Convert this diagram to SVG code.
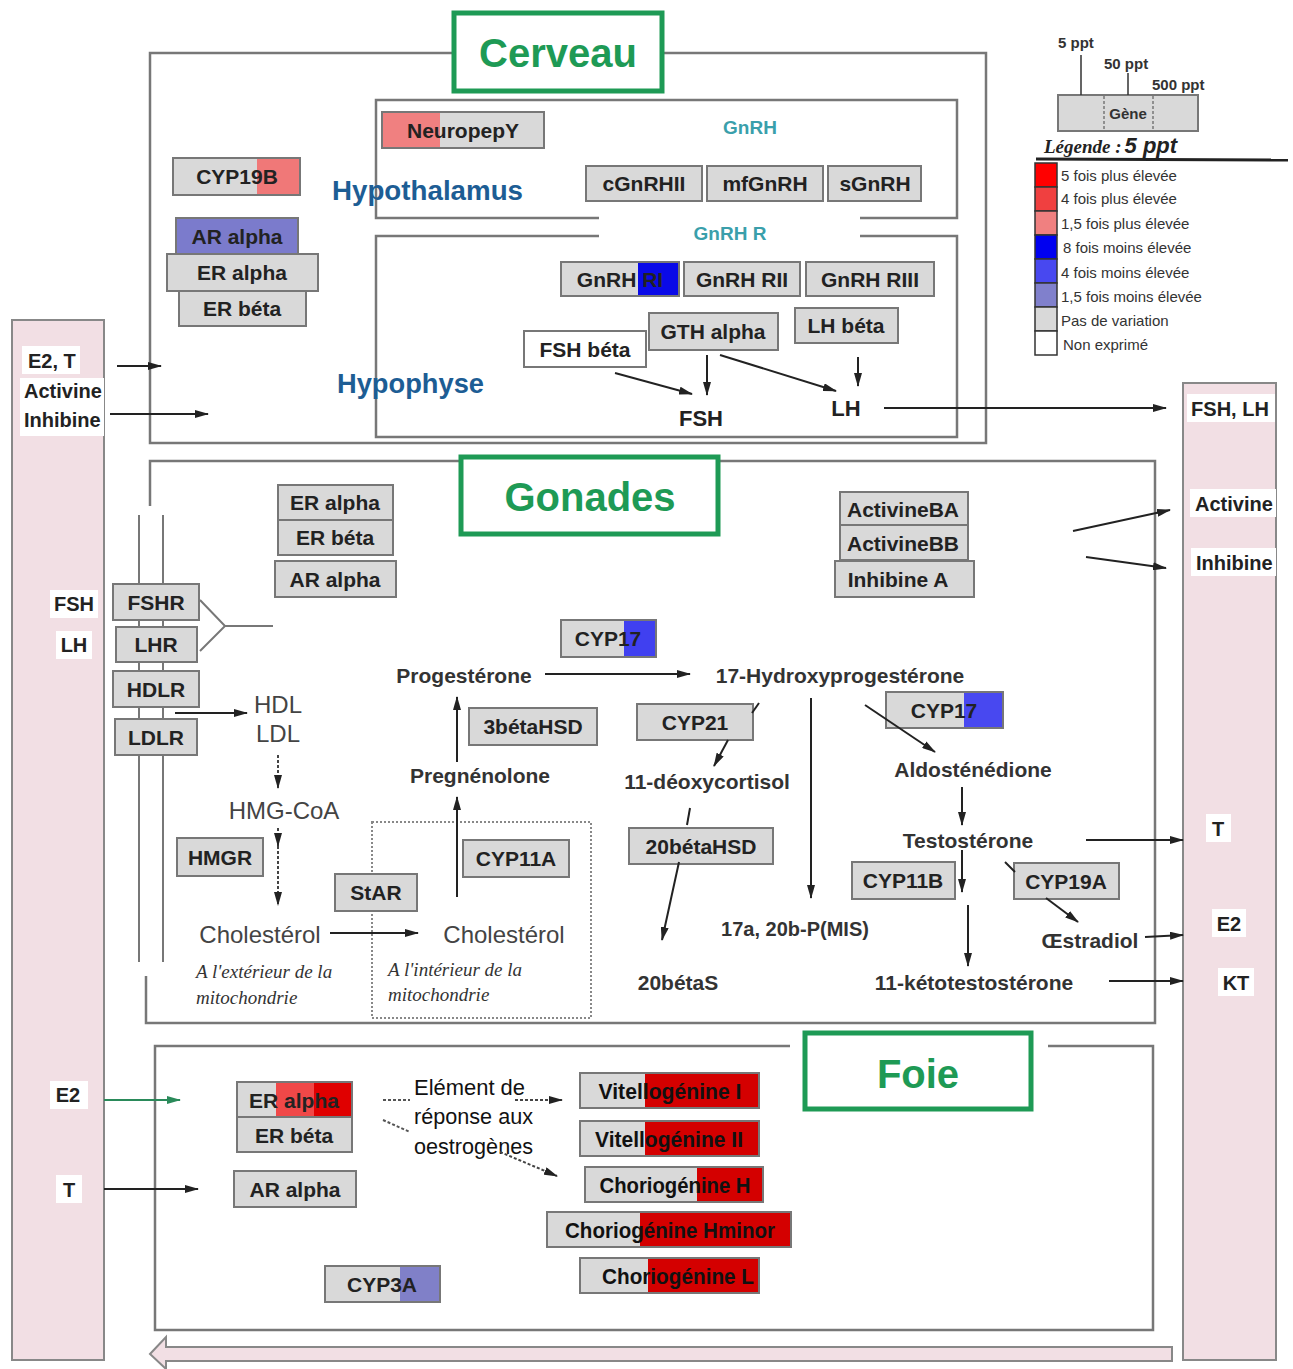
<svg xmlns="http://www.w3.org/2000/svg" width="1293" height="1369" viewBox="0 0 1293 1369">
<defs>
<marker id="ah" viewBox="0 0 14 8" refX="13" refY="4" markerWidth="14" markerHeight="8" markerUnits="userSpaceOnUse" orient="auto"><path d="M0,0 L14,4 L0,8 z" fill="#222"/></marker>
<marker id="ahg" viewBox="0 0 14 8" refX="13" refY="4" markerWidth="14" markerHeight="8" markerUnits="userSpaceOnUse" orient="auto"><path d="M0,0 L14,4 L0,8 z" fill="#2a8a5a"/></marker>
<style>
.g{fill:#d9d9d9;stroke:#777;stroke-width:2}
.w{fill:#fff;stroke:#777;stroke-width:2}
.bd{fill:none;stroke:#777;stroke-width:2}
.t{font-family:"Liberation Sans",Arial,sans-serif;font-weight:bold;font-size:21px;fill:#222;text-anchor:middle}
.tc{font-family:"Liberation Sans",Arial,sans-serif;font-weight:bold;font-size:22px;fill:#111;text-anchor:middle}
.p{font-family:"Liberation Sans",Arial,sans-serif;font-weight:bold;font-size:21px;fill:#333;text-anchor:middle}
.n{font-family:"Liberation Sans",Arial,sans-serif;font-size:24px;fill:#444;text-anchor:middle}
.it{font-family:"Liberation Serif","Times New Roman",serif;font-style:italic;font-size:19px;fill:#333}
.org{font-family:"Liberation Sans",Arial,sans-serif;font-weight:bold;font-size:40px;fill:#1e9a55;text-anchor:middle}
.gb{fill:#fff;stroke:#1e9a55;stroke-width:5}
.reg{font-family:"Liberation Sans",Arial,sans-serif;font-weight:bold;font-size:27px;fill:#1d5d94}
.teal{font-family:"Liberation Sans",Arial,sans-serif;font-weight:bold;font-size:19px;fill:#3a9fab;text-anchor:middle}
.col{fill:#f2dfe4;stroke:#888;stroke-width:2}
.box{fill:none;stroke:#777;stroke-width:2.5}
.lb{font-family:"Liberation Sans",Arial,sans-serif;font-weight:bold;font-size:20px;fill:#222}
.lg{font-family:"Liberation Sans",Arial,sans-serif;font-size:15px;fill:#333}
.ln{stroke:#222;stroke-width:2;fill:none}
.a{stroke:#222;stroke-width:2;fill:none;marker-end:url(#ah)}
.ad{stroke:#444;stroke-width:2;fill:none;stroke-dasharray:3 2;marker-end:url(#ah)}
.dl{stroke:#555;stroke-width:2;fill:none;stroke-dasharray:3 2}
.mem{stroke:#777;stroke-width:2;fill:none}
</style>
</defs>
<rect width="1293" height="1369" fill="#fff"/>

<!-- side columns and bottom return arrow -->
<g id="columns">
<rect class="col" x="12" y="320" width="92" height="1040"/>
<rect class="col" x="1183" y="383" width="93" height="977"/>
<path class="col" d="M150,1354 L166,1337 L166,1347 L1172,1347 L1172,1361 L166,1361 L166,1369 z"/>
<g fill="#fff">
<rect x="22" y="346" width="58" height="28"/>
<rect x="20" y="378" width="84" height="58"/>
<rect x="50" y="590" width="48" height="28"/>
<rect x="56" y="631" width="36" height="28"/>
<rect x="50" y="1081" width="38" height="28"/>
<rect x="56" y="1175" width="26" height="28"/>
<rect x="1187" y="394" width="88" height="28"/>
<rect x="1190" y="489" width="86" height="28"/>
<rect x="1191" y="548" width="85" height="28"/>
<rect x="1206" y="814" width="25" height="28"/>
<rect x="1212" y="909" width="34" height="28"/>
<rect x="1218" y="968" width="36" height="28"/>
</g>
<text class="lb" x="28" y="368">E2, T</text>
<text class="lb" x="24" y="398">Activine</text>
<text class="lb" x="24" y="427">Inhibine</text>
<text class="lb" x="74" y="611" text-anchor="middle">FSH</text>
<text class="lb" x="74" y="652" text-anchor="middle">LH</text>
<text class="lb" x="68" y="1102" text-anchor="middle">E2</text>
<text class="lb" x="69" y="1197" text-anchor="middle">T</text>
<text class="lb" x="1230" y="416" text-anchor="middle">FSH, LH</text>
<text class="lb" x="1195" y="511">Activine</text>
<text class="lb" x="1196" y="570">Inhibine</text>
<text class="lb" x="1218" y="836" text-anchor="middle">T</text>
<text class="lb" x="1229" y="931" text-anchor="middle">E2</text>
<text class="lb" x="1236" y="990" text-anchor="middle">KT</text>
</g>

<!-- organ frames -->
<g id="frames">
<path class="box" d="M452,53 L150,53 L150,443 L986,443 L986,53 L664,53"/>
<path class="box" d="M599,218 L376,218 L376,100 L957,100 L957,218 L860,218"/>
<path class="box" d="M599,236 L376,236 L376,437 L957,437 L957,236 L860,236"/>
<path class="box" d="M459,461 L150,461 L150,506"/>
<path class="box" d="M719,461 L1155,461 L1155,1023 L146,1023 L146,976"/>
<path class="mem" d="M139,515 L139,962 M163,515 L163,962"/>
<rect x="372" y="822" width="219" height="196" fill="none" stroke="#888" stroke-width="2" stroke-dasharray="2 2"/>
<path class="box" d="M790,1046 L155,1046 L155,1330 L1153,1330 L1153,1046 L1048,1046"/>
</g>

<g id="labels">
<rect class="gb" x="454" y="13" width="208" height="78"/>
<text class="org" x="558" y="67">Cerveau</text>
<rect class="gb" x="461" y="457" width="257" height="77"/>
<text class="org" x="590" y="511">Gonades</text>
<rect class="gb" x="805" y="1033" width="226" height="76"/>
<text class="org" x="918" y="1088">Foie</text>
<text class="reg" x="332" y="200" textLength="191" lengthAdjust="spacingAndGlyphs">Hypothalamus</text>
<text class="reg" x="337" y="393" textLength="147" lengthAdjust="spacingAndGlyphs">Hypophyse</text>
<text class="teal" x="750" y="134">GnRH</text>
<text class="teal" x="730" y="240">GnRH R</text>
</g>

<!-- Cerveau nodes -->
<g id="n-neuropepy"><rect class="g" x="382" y="112" width="162" height="36"/><rect x="383" y="113" width="57" height="34" fill="#f08080"/><text class="t" x="463" y="138">NeuropepY</text></g>
<g id="n-cgnrhii"><rect class="g" x="586" y="166" width="116" height="35"/><text class="t" x="644" y="191">cGnRHII</text></g>
<g id="n-mfgnrh"><rect class="g" x="707" y="166" width="116" height="35"/><text class="t" x="765" y="191">mfGnRH</text></g>
<g id="n-sgnrh"><rect class="g" x="828" y="166" width="93" height="35"/><text class="t" x="875" y="191">sGnRH</text></g>
<g id="n-cyp19b"><rect class="g" x="173" y="158" width="127" height="37"/><rect x="257" y="159" width="42" height="35" fill="#f07878"/><text class="t" x="237" y="184">CYP19B</text></g>
<g id="n-ar-c"><rect class="g" x="176" y="218" width="122" height="37" style="fill:#7b7bcc"/><text class="t" x="237" y="244">AR alpha</text></g>
<g id="n-era-c"><rect class="g" x="167" y="254" width="151" height="37"/><text class="t" x="242" y="280">ER alpha</text></g>
<g id="n-erb-c"><rect class="g" x="179" y="291" width="127" height="35"/><text class="t" x="242" y="316">ER béta</text></g>

<!-- Hypophyse nodes -->
<g id="n-gnrhri"><rect class="g" x="561" y="262" width="118" height="34"/><rect x="638" y="263" width="40" height="32" fill="#0a0ae8"/><text class="t" x="620" y="287">GnRH RI</text></g>
<g id="n-gnrhrii"><rect class="g" x="684" y="262" width="116" height="34"/><text class="t" x="742" y="287">GnRH RII</text></g>
<g id="n-gnrhriii"><rect class="g" x="806" y="262" width="128" height="34"/><text class="t" x="870" y="287">GnRH RIII</text></g>
<g id="n-gth"><rect class="g" x="649" y="313" width="129" height="37"/><text class="t" x="713" y="339">GTH alpha</text></g>
<g id="n-lhb"><rect class="g" x="795" y="308" width="103" height="35"/><text class="t" x="846" y="333">LH béta</text></g>
<g id="n-fshb"><rect class="w" x="524" y="331" width="122" height="36"/><text class="t" x="585" y="357">FSH béta</text></g>
<text class="t" x="701" y="426" style="font-size:22px">FSH</text>
<text class="t" x="846" y="416" style="font-size:22px">LH</text>

<!-- Gonades nodes -->
<g id="n-era-g"><rect class="g" x="278" y="485" width="115" height="35"/><text class="t" x="335" y="510">ER alpha</text></g>
<g id="n-erb-g"><rect class="g" x="278" y="520" width="115" height="35"/><text class="t" x="335" y="545">ER béta</text></g>
<g id="n-ar-g"><rect class="g" x="275" y="561" width="121" height="36"/><text class="t" x="335" y="587">AR alpha</text></g>
<g id="n-fshr"><rect class="g" x="113" y="584" width="86" height="36"/><text class="t" x="156" y="610">FSHR</text></g>
<g id="n-lhr"><rect class="g" x="116" y="627" width="81" height="35"/><text class="t" x="156" y="652">LHR</text></g>
<g id="n-hdlr"><rect class="g" x="113" y="671" width="86" height="36"/><text class="t" x="156" y="697">HDLR</text></g>
<g id="n-ldlr"><rect class="g" x="115" y="719" width="82" height="36"/><text class="t" x="156" y="745">LDLR</text></g>
<g id="n-actba"><rect class="g" x="840" y="492" width="128" height="33"/><text class="t" x="903" y="517">ActivineBA</text></g>
<g id="n-actbb"><rect class="g" x="840" y="525" width="128" height="35"/><text class="t" x="903" y="551">ActivineBB</text></g>
<g id="n-inha"><rect class="g" x="835" y="561" width="139" height="36"/><text class="t" x="898" y="587">Inhibine A</text></g>
<g id="n-cyp17a"><rect class="g" x="561" y="620" width="95" height="37"/><rect x="624" y="621" width="31" height="35" fill="#4040f0"/><text class="t" x="608" y="646">CYP17</text></g>
<g id="n-3bhsd"><rect class="g" x="469" y="708" width="128" height="37"/><text class="t" x="533" y="734">3bétaHSD</text></g>
<g id="n-cyp21"><rect class="g" x="637" y="704" width="116" height="36"/><text class="t" x="695" y="730">CYP21</text></g>
<g id="n-cyp11a"><rect class="g" x="463" y="840" width="106" height="37"/><text class="t" x="516" y="866">CYP11A</text></g>
<g id="n-star"><rect class="g" x="335" y="874" width="82" height="37"/><text class="t" x="376" y="900">StAR</text></g>
<g id="n-hmgr"><rect class="g" x="177" y="838" width="86" height="38"/><text class="t" x="220" y="865">HMGR</text></g>
<g id="n-20bhsd"><rect class="g" x="629" y="828" width="144" height="36"/><text class="t" x="701" y="854">20bétaHSD</text></g>
<g id="n-cyp17b"><rect class="g" x="886" y="692" width="117" height="36"/><rect x="964" y="693" width="38" height="34" fill="#4848f0"/><text class="t" x="944" y="718">CYP17</text></g>
<g id="n-cyp11b"><rect class="g" x="852" y="862" width="103" height="37"/><text class="t" x="903" y="888">CYP11B</text></g>
<g id="n-cyp19a"><rect class="g" x="1014" y="863" width="105" height="36"/><text class="t" x="1066" y="889">CYP19A</text></g>

<!-- Gonades metabolites -->
<g id="metabolites">
<text class="n" x="278" y="713">HDL</text>
<text class="n" x="278" y="742">LDL</text>
<text class="n" x="284" y="819">HMG-CoA</text>
<text class="n" x="260" y="943">Cholestérol</text>
<text class="n" x="504" y="943">Cholestérol</text>
<text class="p" x="480" y="783">Pregnénolone</text>
<text class="p" x="464" y="683">Progestérone</text>
<text class="p" x="840" y="683">17-Hydroxyprogestérone</text>
<text class="p" x="707" y="789">11-déoxycortisol</text>
<text class="p" x="678" y="990">20bétaS</text>
<text class="p" x="795" y="936" style="font-size:20px">17a, 20b-P(MIS)</text>
<text class="p" x="973" y="777">Aldosténédione</text>
<text class="p" x="968" y="848">Testostérone</text>
<text class="p" x="1090" y="948">Œstradiol</text>
<text class="p" x="974" y="990">11-kétotestostérone</text>
<text class="it" x="196" y="978">A l'extérieur de la</text>
<text class="it" x="196" y="1004">mitochondrie</text>
<text class="it" x="388" y="976">A l'intérieur de la</text>
<text class="it" x="388" y="1001">mitochondrie</text>
</g>

<!-- Foie nodes -->
<g id="n-era-f"><rect class="g" x="237" y="1082" width="115" height="35"/><rect x="276" y="1083" width="38" height="33" fill="#f04848"/><rect x="314" y="1083" width="37" height="33" fill="#e00000"/><text class="t" x="294" y="1108">ER alpha</text></g>
<g id="n-erb-f"><rect class="g" x="237" y="1117" width="115" height="35"/><text class="t" x="294" y="1143">ER béta</text></g>
<g id="n-ar-f"><rect class="g" x="234" y="1171" width="122" height="36"/><text class="t" x="295" y="1197">AR alpha</text></g>
<g id="n-cyp3a"><rect class="g" x="325" y="1266" width="115" height="36"/><rect x="400" y="1267" width="39" height="34" fill="#8080c8"/><text class="t" x="382" y="1292">CYP3A</text></g>
<g id="n-vtg1"><rect class="g" x="580" y="1073" width="179" height="35"/><rect x="645" y="1074" width="113" height="33" fill="#d40000"/><text class="tc" x="670" y="1099" textLength="143" lengthAdjust="spacingAndGlyphs">Vitellogénine I</text></g>
<g id="n-vtg2"><rect class="g" x="580" y="1121" width="179" height="35"/><rect x="645" y="1122" width="113" height="33" fill="#d40000"/><text class="tc" x="669" y="1147" textLength="148" lengthAdjust="spacingAndGlyphs">Vitellogénine II</text></g>
<g id="n-chgh"><rect class="g" x="585" y="1167" width="178" height="35"/><rect x="697" y="1168" width="65" height="33" fill="#d40000"/><text class="tc" x="675" y="1193" textLength="151" lengthAdjust="spacingAndGlyphs">Choriogénine H</text></g>
<g id="n-chghm"><rect class="g" x="547" y="1212" width="244" height="35"/><rect x="640" y="1213" width="150" height="33" fill="#d40000"/><text class="tc" x="670" y="1238" textLength="210" lengthAdjust="spacingAndGlyphs">Choriogénine Hminor</text></g>
<g id="n-chgl"><rect class="g" x="580" y="1258" width="179" height="35"/><rect x="648" y="1259" width="110" height="33" fill="#d40000"/><text class="tc" x="678" y="1284" textLength="152" lengthAdjust="spacingAndGlyphs">Choriogénine L</text></g>
<g id="ere-label" font-family="'Liberation Sans',Arial,sans-serif" font-size="22" fill="#111">
<text x="414" y="1095" textLength="111" lengthAdjust="spacingAndGlyphs">Elément de</text>
<text x="414" y="1124" textLength="119" lengthAdjust="spacingAndGlyphs">réponse aux</text>
<text x="414" y="1154" textLength="119" lengthAdjust="spacingAndGlyphs">oestrogènes</text>
</g>

<!-- connectors -->
<g id="connectors">
<path class="a" d="M117,366 L161,366"/>
<path class="a" d="M110,414 L208,414"/>
<path class="a" d="M615,373 L692,394"/>
<path class="a" d="M707,355 L707,395"/>
<path class="a" d="M720,355 L836,391"/>
<path class="a" d="M858,357 L858,386"/>
<path class="a" d="M884,408 L1166,408"/>
<path class="ln" d="M200,600 L225,626 L200,651 M225,626 L273,626" style="stroke:#777"/>
<path class="a" d="M175,713 L247,713"/>
<path class="ad" d="M278,755 L278,788"/>
<path class="ad" d="M278,828 L278,846"/>
<path class="ad" d="M278,846 L278,905"/>
<path class="a" d="M330,933 L418,933"/>
<path class="a" d="M457,897 L457,797"/>
<path class="a" d="M457,762 L457,697"/>
<path class="a" d="M545,674 L690,674"/>
<path class="ln" d="M752,713 L759,703"/>
<path class="a" d="M728,740 L714,766"/>
<path class="ln" d="M690,808 L687,825"/>
<path class="a" d="M679,862 L662,940"/>
<path class="a" d="M811,698 L811,898"/>
<path class="a" d="M865,705 L935,752"/>
<path class="a" d="M962,787 L962,825"/>
<path class="a" d="M962,850 L962,892"/>
<path class="a" d="M968,905 L968,966"/>
<path class="ln" d="M1005,862 L1015,872"/>
<path class="a" d="M1046,898 L1078,922"/>
<path class="a" d="M1086,840 L1183,840"/>
<path class="a" d="M1145,937 L1183,935"/>
<path class="a" d="M1109,981 L1183,981"/>
<path class="a" d="M1073,531 L1170,510"/>
<path class="a" d="M1086,557 L1166,568"/>
<path d="M104,1100 L180,1100" stroke="#2a8a5a" stroke-width="2" fill="none" marker-end="url(#ahg)"/>
<path class="a" d="M104,1189 L198,1189"/>
<path class="dl" d="M383,1100 L410,1100"/>
<path class="ad" d="M515,1100 L562,1100"/>
<path class="dl" d="M383,1120 L410,1132"/>
<path class="ad" d="M500,1152 L557,1176"/>
</g>

<!-- legend -->
<g id="legend">
<rect class="g" x="1058" y="95" width="140" height="36"/>
<path d="M1104,96 L1104,130 M1153,96 L1153,130" stroke="#777" stroke-width="1.5" stroke-dasharray="3 2"/>
<path d="M1081,55 L1081,95 M1128,73 L1128,95" stroke="#333" stroke-width="1.5"/>
<text x="1128" y="119" font-family="'Liberation Sans',Arial,sans-serif" font-weight="bold" font-size="15" fill="#333" text-anchor="middle">Gène</text>
<text x="1058" y="48" font-family="'Liberation Sans',Arial,sans-serif" font-weight="bold" font-size="15" fill="#333">5 ppt</text>
<text x="1104" y="69" font-family="'Liberation Sans',Arial,sans-serif" font-weight="bold" font-size="15" fill="#333">50 ppt</text>
<text x="1152" y="90" font-family="'Liberation Sans',Arial,sans-serif" font-weight="bold" font-size="15" fill="#333">500 ppt</text>
<text x="1044" y="153" font-family="'Liberation Serif','Times New Roman',serif" font-style="italic" font-weight="bold" font-size="19" fill="#222">Légende :<tspan font-family="'Liberation Sans',Arial,sans-serif" font-size="22" dx="3">5 ppt</tspan></text>
<path d="M1036,159 L1288,160" stroke="#222" stroke-width="3"/>
<g stroke="#333" stroke-width="1.5">
<rect x="1035" y="163" width="22" height="24" fill="#ff0000"/>
<rect x="1035" y="187" width="22" height="24" fill="#f04040"/>
<rect x="1035" y="211" width="22" height="24" fill="#f08080"/>
<rect x="1035" y="235" width="22" height="24" fill="#0000f0"/>
<rect x="1035" y="259" width="22" height="24" fill="#4848f0"/>
<rect x="1035" y="283" width="22" height="24" fill="#8080cc"/>
<rect x="1035" y="307" width="22" height="24" fill="#d9d9d9"/>
<rect x="1035" y="331" width="22" height="24" fill="#ffffff"/>
</g>
<text class="lg" x="1061" y="181">5 fois plus élevée</text>
<text class="lg" x="1061" y="204">4 fois plus élevée</text>
<text class="lg" x="1061" y="229">1,5 fois plus élevée</text>
<text class="lg" x="1063" y="253">8 fois moins élevée</text>
<text class="lg" x="1061" y="278">4 fois moins élevée</text>
<text class="lg" x="1061" y="302">1,5 fois moins élevée</text>
<text class="lg" x="1061" y="326">Pas de variation</text>
<text class="lg" x="1063" y="350">Non exprimé</text>
</g>
</svg>
